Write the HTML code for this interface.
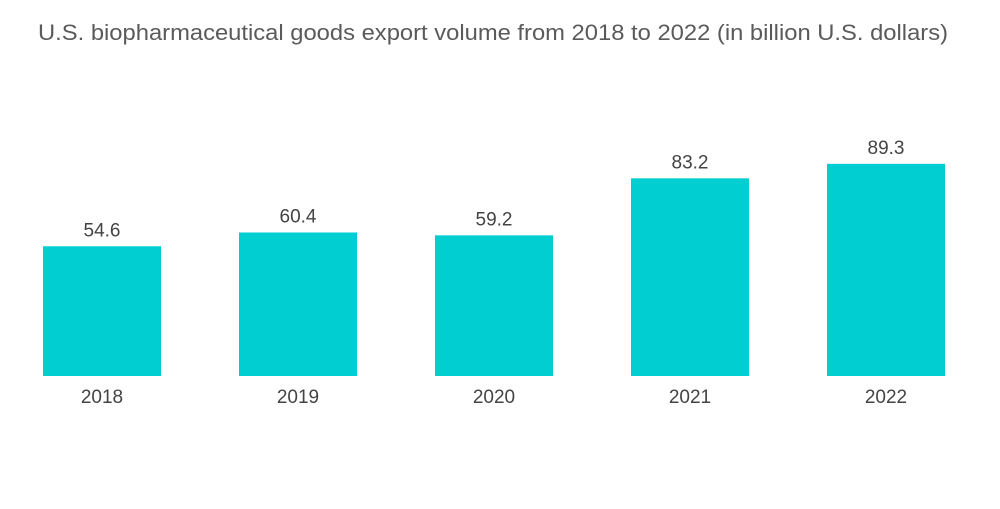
<!DOCTYPE html>
<html><head><meta charset="utf-8"><style>
body{margin:0;background:#fff;width:1000px;height:504px;overflow:hidden;font-family:"Liberation Sans",sans-serif}
</style></head><body>
<svg width="1000" height="504">
<text x="38" y="40" font-size="22" textLength="910" lengthAdjust="spacingAndGlyphs" fill="#5a5a5a">U.S. biopharmaceutical goods export volume from 2018 to 2022 (in billion U.S. dollars)</text>
<g id="bars"></g>
</svg>
<script>
const categories=["2018","2019","2020","2021","2022"];
const values=[54.6,60.4,59.2,83.2,89.3];
const valueLabels=["54.6","60.4","59.2","83.2","89.3"];
const baseY=376, pxPerUnit=2.376, x0=43, step=196, bw=118;
const y=v=>baseY-v*pxPerUnit;
const xs=i=>x0+i*step;
const g=document.getElementById('bars');
const NS="http://www.w3.org/2000/svg";
categories.forEach((c,i)=>{
  const r=document.createElementNS(NS,'rect');
  r.setAttribute('x',xs(i));r.setAttribute('y',y(values[i]));
  r.setAttribute('width',bw);r.setAttribute('height',baseY-y(values[i]));
  r.setAttribute('fill','#00ced1');
  
  
  g.appendChild(r);
  const t=document.createElementNS(NS,'text');
  t.setAttribute('x',xs(i)+bw/2);t.setAttribute('y',y(values[i])-10);
  t.setAttribute('text-anchor','middle');t.setAttribute('font-size','19');t.setAttribute('fill','#444');
  t.textContent=valueLabels[i];
  
  
  g.appendChild(t);
  const l=document.createElementNS(NS,'text');
  l.setAttribute('x',xs(i)+bw/2);l.setAttribute('y',403);
  l.setAttribute('text-anchor','middle');l.setAttribute('font-size','19');l.setAttribute('fill','#444');
  l.textContent=c;
  
  
  g.appendChild(l);
});
</script>
</body></html>
